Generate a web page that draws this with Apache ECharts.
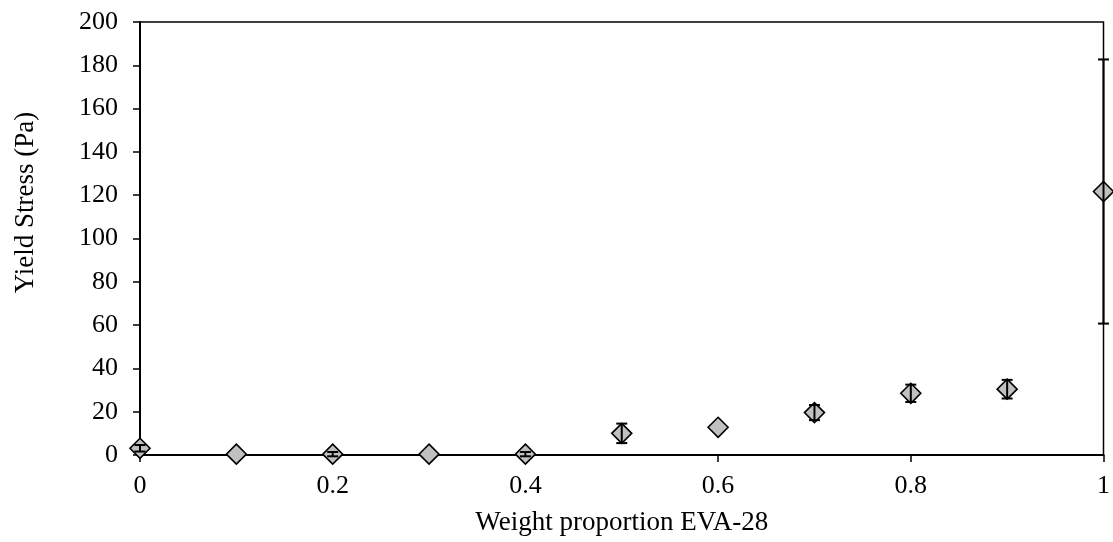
<!DOCTYPE html>
<html>
<head>
<meta charset="utf-8">
<script src="https://cdn.jsdelivr.net/npm/echarts@6/dist/echarts.min.js"></script>
<style>
html,body{margin:0;padding:0;background:#fff;}
#chart{width:1113px;height:542px;}
</style>
</head>
<body>
<div id="chart"></div>
<script>
const proportions = [0, 0.1, 0.2, 0.3, 0.4, 0.5, 0.6, 0.7, 0.8, 0.9, 1.0];
const yieldStress = [3.1, 0.4, 0.4, 0.4, 0.4, 10.0, 12.8, 19.6, 28.5, 30.4, 121.7];
const yieldError  = [1.5, 0, 1, 0, 1, 4.5, 0, 3.5, 4.0, 4.3, 61];
const xTitle = 'Weight proportion EVA-28';
const yTitle = 'Yield Stress (Pa)';

const font = 'Liberation Serif, Times New Roman, serif';
const points = proportions.map((x, i) => [x, yieldStress[i]]);
const errs = proportions.map((x, i) => [x, yieldStress[i], yieldError[i]]);

const chart = echarts.init(document.getElementById('chart'));
chart.setOption({
  animation: false,
  backgroundColor: '#fff',
  grid: {
    left: 140, right: 6, top: 22, bottom: 87,
    show: true, borderColor: '#000', borderWidth: 1.5, backgroundColor: 'transparent'
  },
  xAxis: {
    type: 'value', min: 0, max: 1, interval: 0.2,
    name: xTitle, nameLocation: 'middle', nameGap: 54,
    nameTextStyle: { fontFamily: font, fontSize: 27, color: '#000' },
    axisLine: { show: true, lineStyle: { color: '#000', width: 2 } },
    axisTick: { show: true, inside: false, length: 7, lineStyle: { color: '#000', width: 1.5 } },
    axisLabel: { fontFamily: font, fontSize: 26, color: '#000', margin: 18,
      formatter: v => String(Math.round(v * 10) / 10) },
    splitLine: { show: false }
  },
  yAxis: {
    type: 'value', min: 0, max: 200, interval: 20,
    name: yTitle, nameLocation: 'middle', nameGap: 101, nameRotate: 90,
    nameTextStyle: { fontFamily: font, fontSize: 27, color: '#000', padding: [0, 0, 0, 72] },
    axisLine: { show: true, lineStyle: { color: '#000', width: 2 } },
    axisTick: { show: true, inside: false, length: 7, lineStyle: { color: '#000', width: 1.5 } },
    axisLabel: { fontFamily: font, fontSize: 26, color: '#000', margin: 22 },
    splitLine: { show: false }
  },
  series: [
    {
      type: 'scatter',
      data: points,
      symbol: 'diamond',
      symbolSize: 20,
      clip: false,
      z: 2,
      itemStyle: { color: '#c0c0c0', borderColor: '#000', borderWidth: 1.6, opacity: 1 }
    },
    {
      type: 'custom',
      data: errs,
      clip: false,
      z: 3,
      renderItem: function (params, api) {
        const x = api.value(0), y = api.value(1), e = api.value(2);
        if (!e) return null;
        const hi = api.coord([x, y + e]);
        const lo = api.coord([x, y - e]);
        const hw = 5.5;
        const style = { stroke: '#000', lineWidth: 2 };
        return {
          type: 'group',
          children: [
            { type: 'line', shape: { x1: hi[0], y1: hi[1], x2: lo[0], y2: lo[1] }, style: style },
            { type: 'line', shape: { x1: hi[0] - hw, y1: hi[1], x2: hi[0] + hw, y2: hi[1] }, style: style },
            { type: 'line', shape: { x1: lo[0] - hw, y1: lo[1], x2: lo[0] + hw, y2: lo[1] }, style: style }
          ]
        };
      }
    }
  ]
});
</script>
</body>
</html>
